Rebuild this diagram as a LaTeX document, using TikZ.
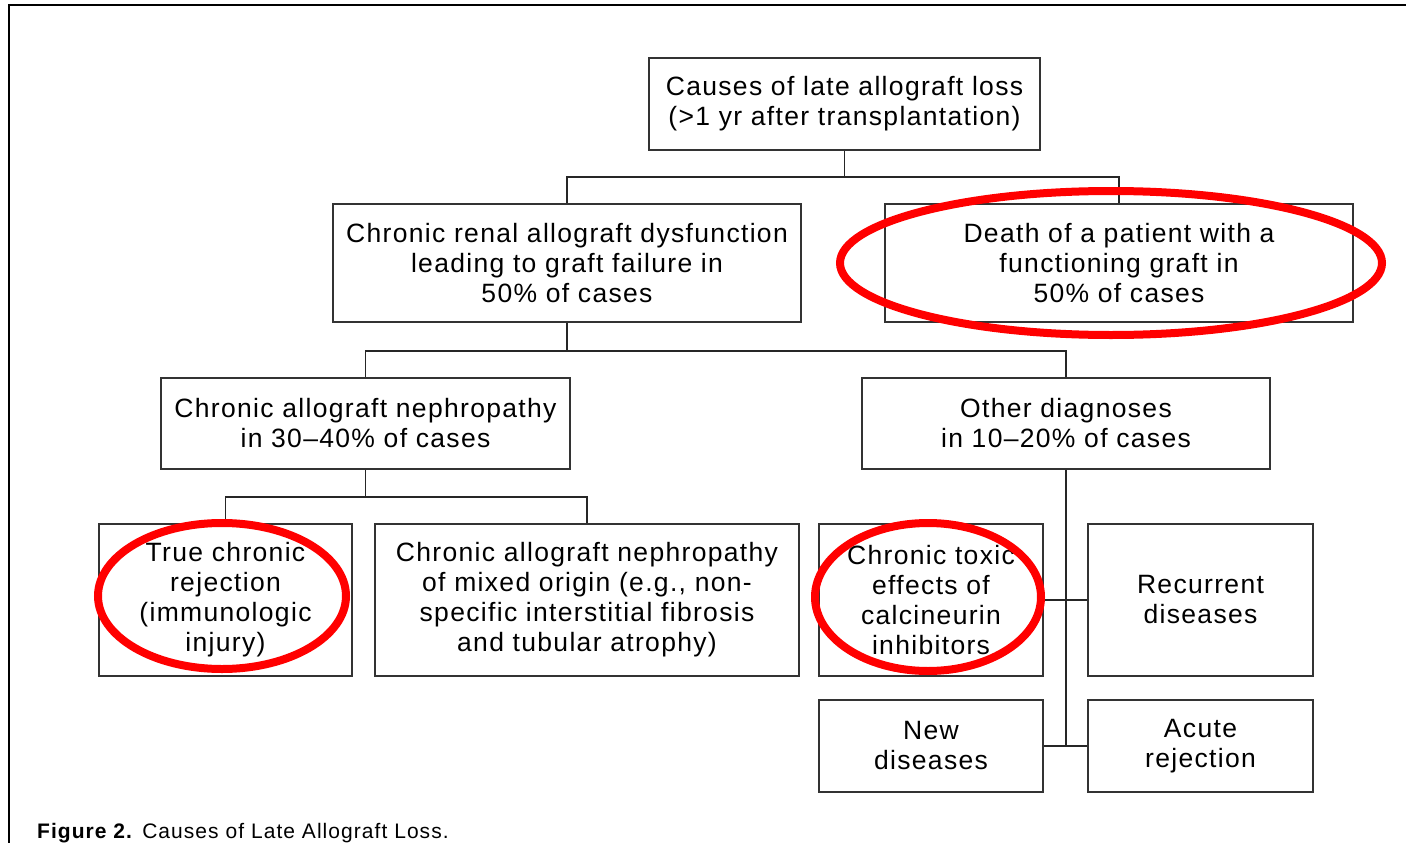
\documentclass[tikz,border=0pt]{standalone}
\usepackage{fontspec}
\setmainfont{Liberation Sans}[LetterSpace=5]
\begin{document}
\begin{tikzpicture}[x=1pt, y=-1pt,
  box/.style={draw=black!80, line width=1.6pt, align=center, inner sep=0pt,
    font=\fontsize{26.5}{30}\selectfont},
  link/.style={draw=black!85, line width=1.6pt},
  ring/.style={draw=red, line width=8pt}]
\useasboundingbox (0,0) rectangle (1406,843);
% frame
\draw[line width=2pt] (9,843) -- (9,5.5) -- (1406,5.5);
% boxes
\node[box, minimum width=391pt, minimum height=92pt] (top) at (844.5,104) {Causes of late allograft loss\\(>1 yr after transplantation)};
\node[box, minimum width=468pt, minimum height=118pt] (dys) at (567,263) {Chronic renal allograft dysfunction\\leading to graft failure in\\50\% of cases};
\node[box, minimum width=468pt, minimum height=118pt] (death) at (1119,263) {Death of a patient with a\\functioning graft in\\50\% of cases};
\node[box, minimum width=409pt, minimum height=91pt] (can) at (365.5,423.5) {Chronic allograft nephropathy\\in 30--40\% of cases};
\node[box, minimum width=408pt, minimum height=91pt] (other) at (1066,423.5) {Other diagnoses\\in 10--20\% of cases};
\node[box, minimum width=253pt, minimum height=152pt] (truerej) at (225.5,600) {True chronic\\rejection\\(immunologic\\injury)};
\node[box, minimum width=424pt, minimum height=152pt] (mixed) at (587,600) {Chronic allograft nephropathy\\of mixed origin (e.g., non-\\specific interstitial fibrosis\\and tubular atrophy)};
\node[box, minimum width=224pt, minimum height=152pt] (toxic) at (931,600) {Chronic toxic\\effects of\\calcineurin\\inhibitors};
\node[box, minimum width=225pt, minimum height=152pt] (recur) at (1200.5,600) {Recurrent\\diseases};
\node[box, minimum width=224pt, minimum height=92pt] (new) at (931,746) {New\\diseases};
\node[box, minimum width=225pt, minimum height=92pt] (acute) at (1200.5,746) {Acute\\rejection};
% connectors
\draw[link] (top.south) -- ++(0,26) coordinate (j1);
\draw[link] (j1) -| (dys.north);
\draw[link] (j1) -| (death.north);
\draw[link] (dys.south) -- ++(0,28) coordinate (j2);
\draw[link] (j2) -| (can.north);
\draw[link] (j2) -| (other.north);
\draw[link] (can.south) -- ++(0,27) coordinate (j3);
\draw[link] (j3) -| (truerej.north);
\draw[link] (j3) -| (mixed.north);
\draw[link] (other.south) -- (other.south |- new.east);
\draw[link] (toxic.east) -- (recur.west);
\draw[link] (new.east) -- (acute.west);
% red marks
\draw[ring] (1111,263) ellipse [x radius=271pt, y radius=72pt];
\draw[ring] (222,596) ellipse [x radius=124pt, y radius=73pt];
\draw[ring] (928,597) ellipse [x radius=113pt, y radius=74pt];
% caption
\node[anchor=base west, inner sep=0pt, font=\fontsize{21}{24}\selectfont] (cap) at (37,838) {\textbf{Figure 2.} Causes of Late Allograft Loss.};
\end{tikzpicture}
\end{document}
